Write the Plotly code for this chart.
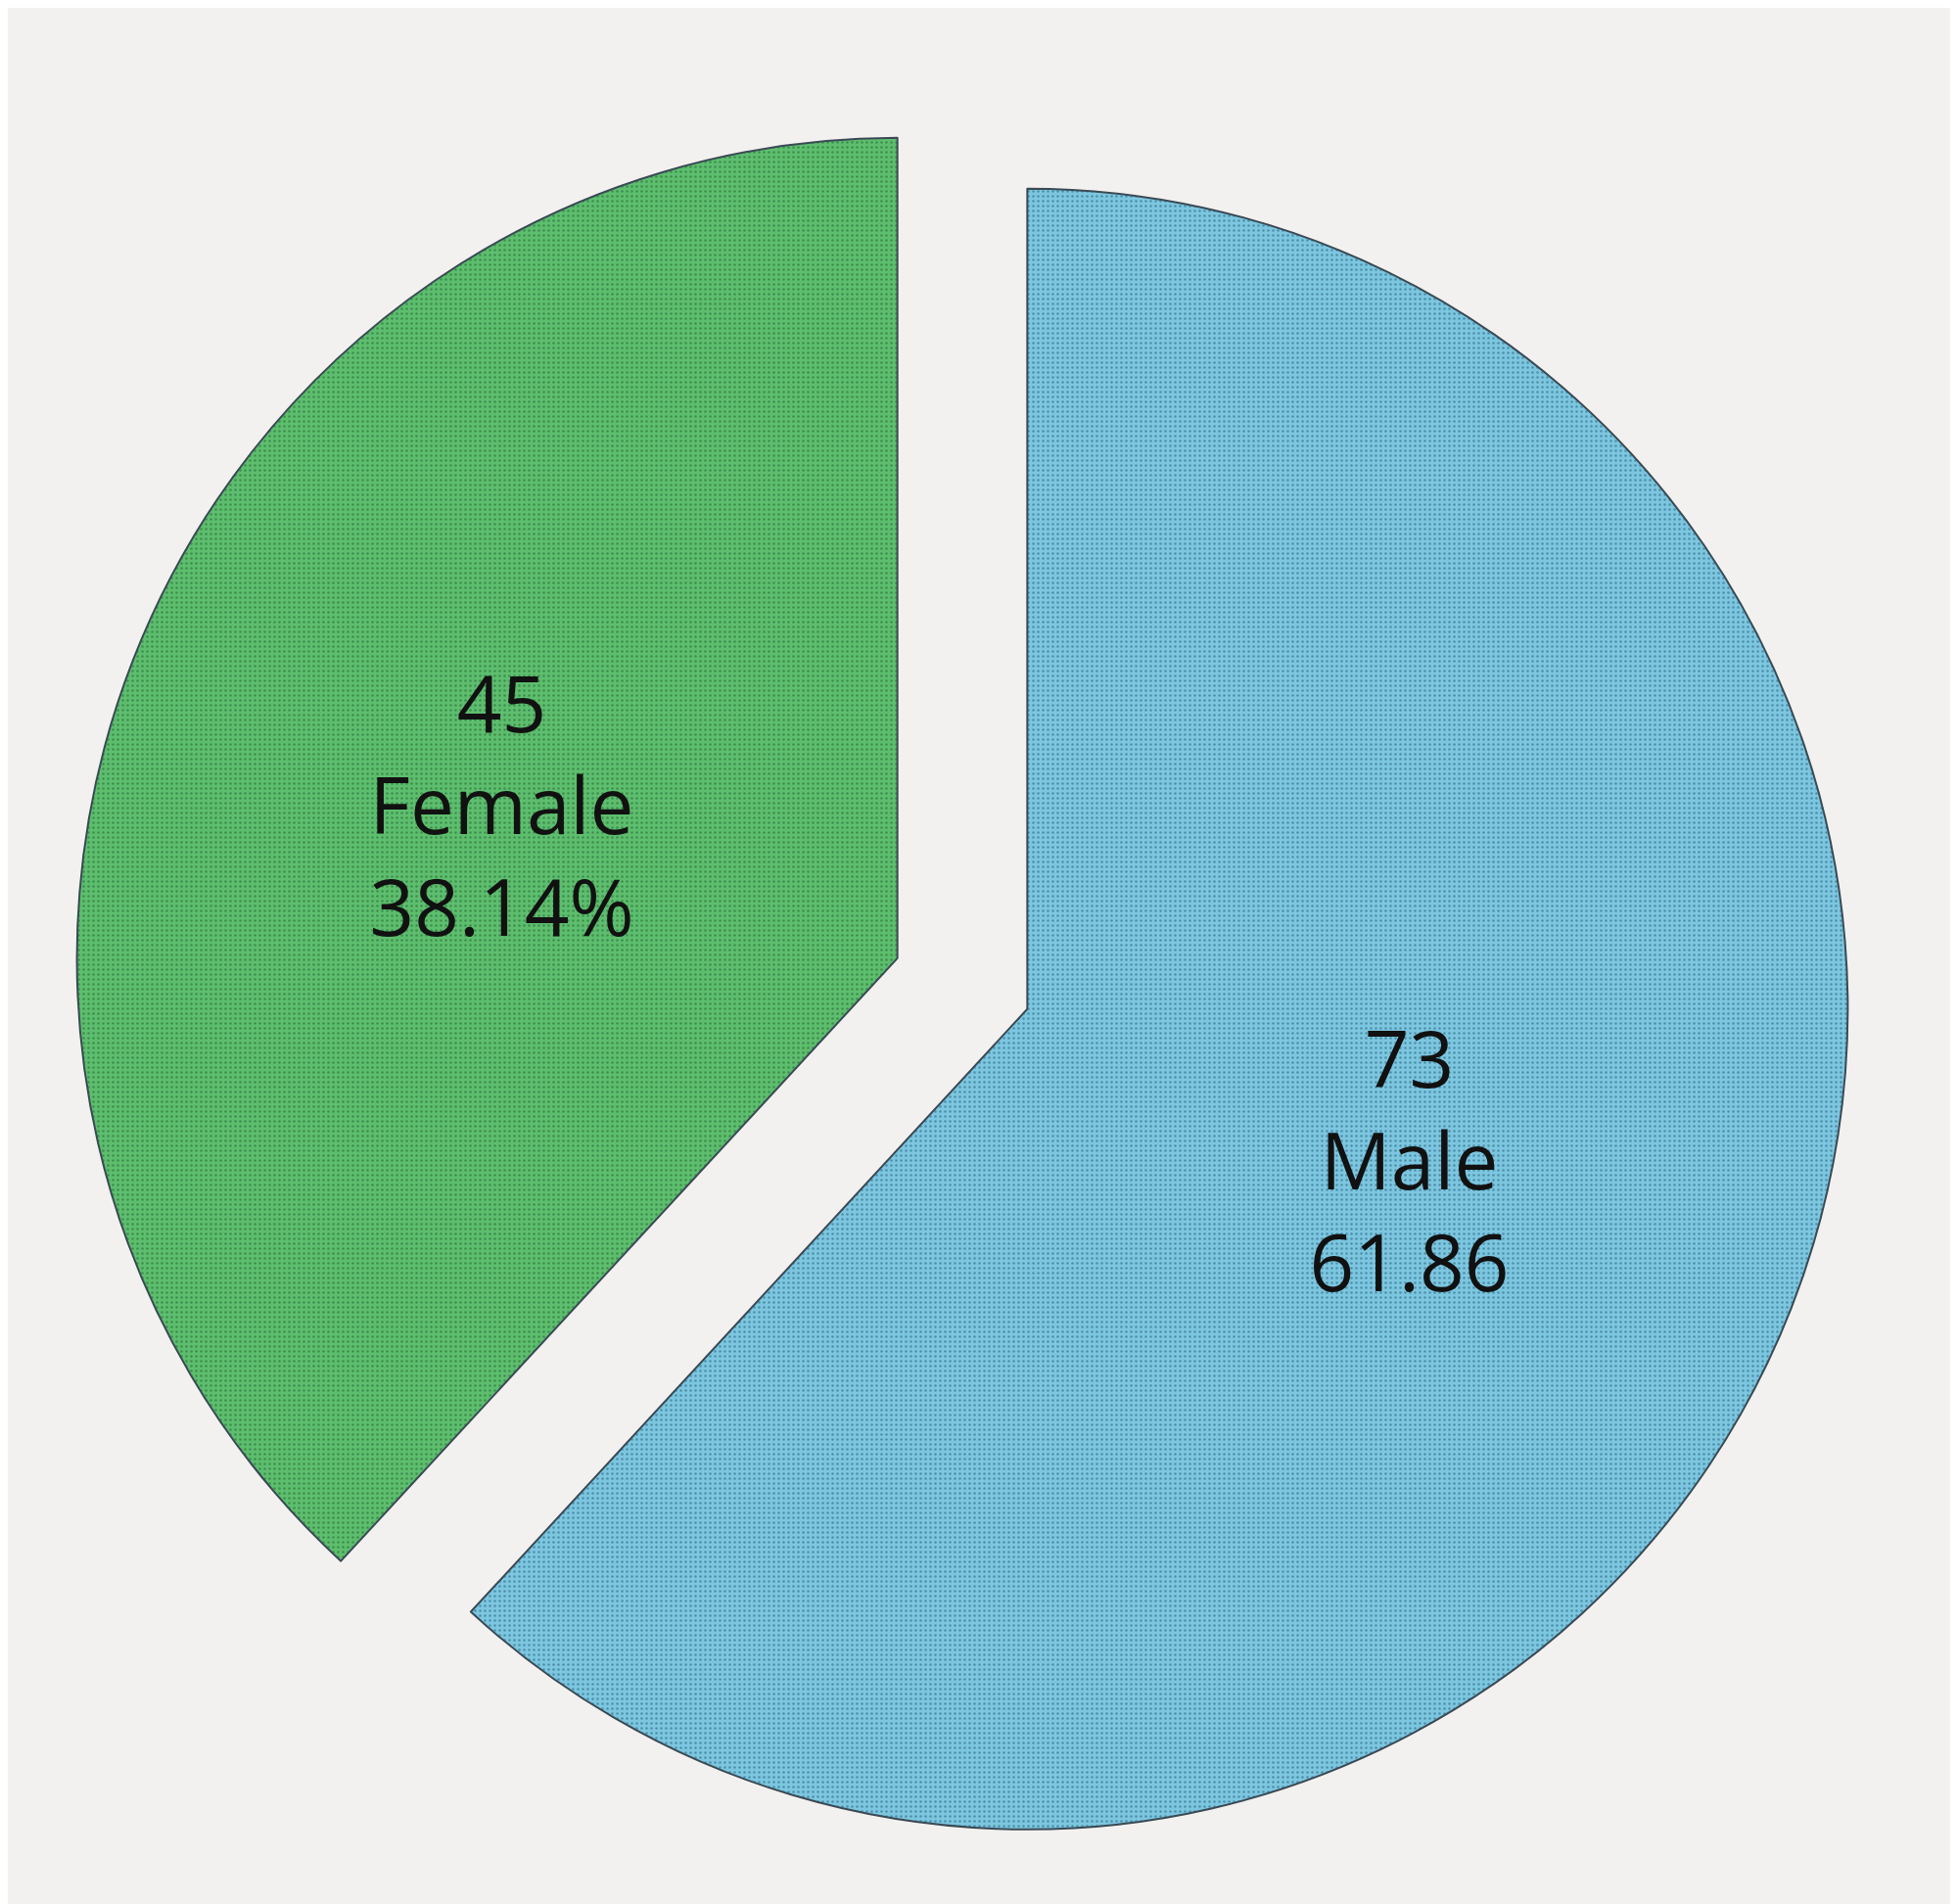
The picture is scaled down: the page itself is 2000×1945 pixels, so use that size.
import plotly.graph_objects as go

labels = ["Male", "Female"]
values = [73, 45]
texts = ["73<br>Male<br>61.86", "45<br>Female<br>38.14%"]
colors = ["#7CC6E0", "#5DBE6E"]
dots = ["#4E8FA8", "#3E8E4E"]

fig = go.Figure(go.Pie(
    labels=labels, values=values, text=texts,
    textinfo="text", textposition="inside", insidetextorientation="horizontal",
    sort=False, direction="clockwise", rotation=0,
    pull=[0.085, 0.085],
    marker=dict(colors=colors, line=dict(color="#3a4a55", width=2),
                pattern=dict(shape=".", size=5, solidity=0.2, fgcolor=dots, bgcolor=colors)),
    textfont=dict(family="Open Sans", size=80, color="#111111"),
    showlegend=False,
    domain=dict(x=[0.01, 0.965], y=[0.02, 0.955]),
))
fig.update_layout(width=2000, height=1945, paper_bgcolor="#F3F1EF",
                  margin=dict(l=0, r=0, t=0, b=0))
fig.write_html("out.html")
